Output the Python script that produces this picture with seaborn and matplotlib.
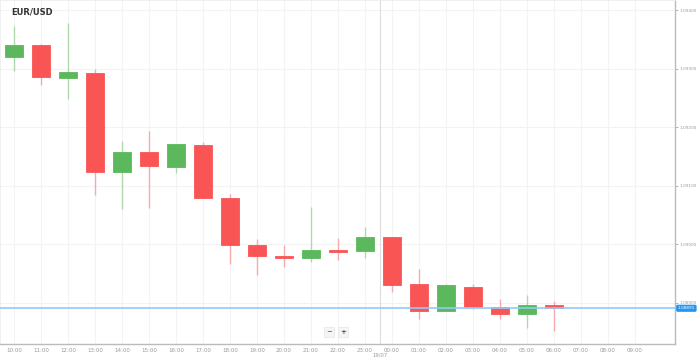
import matplotlib
matplotlib.use("Agg")
import matplotlib.pyplot as plt
import matplotlib.transforms as mtransforms
import seaborn as sns

# hourly EUR/USD candles, 10:00 on 18/07 to 06:00 on 19/07
hours = ["10:00", "11:00", "12:00", "13:00", "14:00", "15:00", "16:00", "17:00",
         "18:00", "19:00", "20:00", "21:00", "22:00", "23:00", "00:00", "01:00",
         "02:00", "03:00", "04:00", "05:00", "06:00", "07:00", "08:00", "09:00"]
opens = [1.09319, 1.09340, 1.09284, 1.09293, 1.09124, 1.09157, 1.09132, 1.09170,
         1.09080, 1.08999, 1.08981, 1.08977, 1.08991, 1.08988, 1.09013, 1.08932,
         1.08887, 1.08928, 1.08894, 1.08882, 1.08896]
highs = [1.09372, 1.09342, 1.09378, 1.09300, 1.09176, 1.09194, 1.09171, 1.09175,
         1.09086, 1.09010, 1.08999, 1.09064, 1.09011, 1.09029, 1.09013, 1.08958,
         1.08932, 1.08933, 1.08907, 1.08914, 1.08903]
lows = [1.09296, 1.09272, 1.09248, 1.09084, 1.09060, 1.09062, 1.09122, 1.09080,
        1.08967, 1.08948, 1.08962, 1.08970, 1.08973, 1.08977, 1.08919, 1.08873,
        1.08887, 1.08889, 1.08872, 1.08857, 1.08852]
closes = [1.09340, 1.09285, 1.09294, 1.09123, 1.09157, 1.09133, 1.09171, 1.09080,
          1.08999, 1.08981, 1.08977, 1.08991, 1.08987, 1.09013, 1.08931, 1.08886,
          1.08930, 1.08894, 1.08881, 1.08896, 1.08891]
price_ticks = [1.08900, 1.09000, 1.09100, 1.09200, 1.09300, 1.09400]
last_price = 1.08891

GREEN = "#5cb85c"
RED = "#f95555"

sns.set_theme(style="white")
plt.rcParams["font.family"] = ["DejaVu Sans"]

fig = plt.figure(figsize=(6.99, 3.6), dpi=100)
ax = fig.add_axes([0, 1 - 344 / 360, 675 / 699, 344 / 360])

# grid
for i in range(len(hours)):
    ax.axvline(i, color="#f3f3f3", lw=0.8, zorder=0)
for p in price_ticks:
    ax.axhline(p, color="#f3f3f3", lw=0.8, zorder=0)
ax.axvline(13.55, color="#dddddd", lw=0.8, zorder=0)

# candles
for i, (o, h, l, c) in enumerate(zip(opens, highs, lows, closes)):
    col = GREEN if c >= o else RED
    ax.vlines(i, l, h, color=col, lw=1, alpha=0.45, zorder=1)
    lo, hi = min(o, c), max(o, c)
    ax.bar(i, max(hi - lo, 0.000025), bottom=lo, width=0.66, color=col,
           edgecolor=col, linewidth=0.6, alpha=1, zorder=2)

# current price line + label
ax.axhline(last_price, color="#90caf9", lw=1.2, zorder=3)
trans = mtransforms.blended_transform_factory(ax.transAxes, ax.transData)
ax.text(1.004, last_price, f"{last_price:.5f}", transform=trans, fontsize=3.1,
        color="white", va="center", ha="left",
        bbox=dict(boxstyle="round,pad=0.2", fc="#2196f3", ec="#2196f3"))

ax.set_xlim(-0.52, 24.48)
ax.set_ylim(1.08830, 1.094171)
ax.set_xticks(range(len(hours)))
ax.set_xticklabels(hours)
ax.set_yticks(price_ticks)
ax.set_yticklabels([f"{p:.5f}" for p in price_ticks])
ax.yaxis.tick_right()
ax.tick_params(axis="y", labelsize=3.1, colors="#999999", length=2, width=0.5,
               pad=1.5)
ax.tick_params(axis="x", labelsize=4, colors="#999999", length=0, pad=3)

for s in ["top", "left"]:
    ax.spines[s].set_color("#eeeeee")
    ax.spines[s].set_linewidth(0.6)
for s in ["right", "bottom"]:
    ax.spines[s].set_color("#bbbbbb")
    ax.spines[s].set_linewidth(1)

ax.text(13.55, -0.024, "19/07", transform=mtransforms.blended_transform_factory(
    ax.transData, ax.transAxes), fontsize=3.8, color="#999999", ha="center",
    va="top")

ax.text(0.016, 0.965, "EUR/USD", transform=ax.transAxes, fontsize=6,
        color="#333333", fontweight="bold", ha="left", va="center")

# zoom buttons
ax.text(0.488, 0.035, "−", transform=ax.transAxes, fontsize=5, color="#555555",
        ha="center", va="center",
        bbox=dict(boxstyle="square,pad=0.3", fc="#f5f5f5", ec="#e5e5e5", lw=0.5))
ax.text(0.508, 0.035, "+", transform=ax.transAxes, fontsize=5, color="#555555",
        ha="center", va="center", fontweight="bold",
        bbox=dict(boxstyle="square,pad=0.3", fc="#f5f5f5", ec="#e5e5e5", lw=0.5))

fig.savefig("out.png", dpi=100)
